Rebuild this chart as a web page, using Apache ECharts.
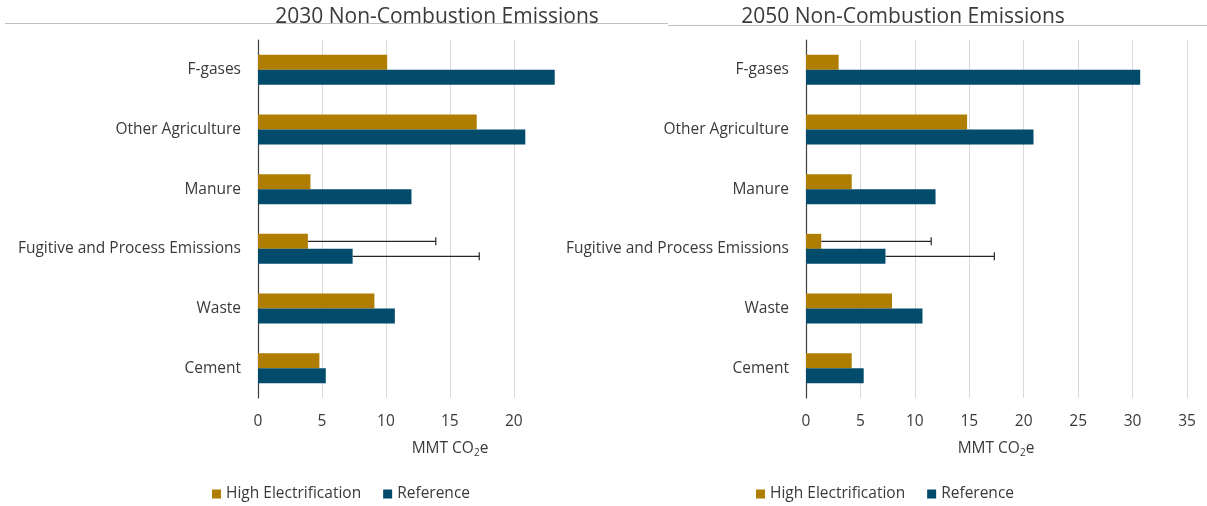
<!DOCTYPE html>
<html>
<head>
<meta charset="utf-8">
<script src="https://cdn.jsdelivr.net/npm/echarts@6/dist/echarts.min.js"></script>
<style>
  html, body { margin: 0; padding: 0; background: #fff; }
  #main { width: 1207px; height: 506px; }
</style>
</head>
<body>
<div id="main"></div>
<script>
// categories, top to bottom
const categories = ['F-gases', 'Other Agriculture', 'Manure', 'Fugitive and Process Emissions', 'Waste', 'Cement'];
const seriesNames = ['High Electrification', 'Reference'];

// MMT CO2e
const high2030 = [10.1, 17.1, 4.1, 3.9, 9.1, 4.8];
const ref2030 = [23.2, 20.9, 12.0, 7.4, 10.7, 5.3];
const high2050 = [3.0, 14.8, 4.2, 1.4, 7.9, 4.2];
const ref2050 = [30.7, 20.9, 11.9, 7.3, 10.7, 5.3];

// upper end of the error bars (only Fugitive and Process Emissions has one)
const errHigh2030 = [null, null, null, 13.9, null, null];
const errRef2030 = [null, null, null, 17.3, null, null];
const errHigh2050 = [null, null, null, 11.5, null, null];
const errRef2050 = [null, null, null, 17.3, null, null];

const xTicks2030 = [0, 5, 10, 15, 20];
const xTicks2050 = [0, 5, 10, 15, 20, 25, 30, 35];

const colors = ['#AF7D00', '#034B6B'];
const textColor = '#3a3a3a';
const font = '"Open Sans", sans-serif';
const fs = 15.5;
const barW = 15;

const chart = echarts.init(document.getElementById('main'));

function xAxisFor(gridIndex, max, ticks) {
  return {
    type: 'value',
    gridIndex: gridIndex,
    min: 0,
    max: max,
    interval: 5,
    axisLine: { show: false },
    axisTick: { show: false },
    axisLabel: {
      color: textColor,
      fontFamily: font,
      fontSize: fs,
      margin: 16,
      formatter: v => (ticks.indexOf(v) >= 0 ? String(v) : '')
    },
    splitLine: {
      show: true,
      showMinLine: false,
      showMaxLine: max === ticks[ticks.length - 1],
      lineStyle: { color: '#D9D9D9', width: 1 }
    }
  };
}

function yAxisFor(gridIndex) {
  return {
    type: 'category',
    gridIndex: gridIndex,
    data: categories,
    inverse: true,
    axisLine: { show: true, lineStyle: { color: '#404040', width: 1.2 } },
    axisTick: { show: false },
    axisLabel: { color: textColor, fontFamily: font, fontSize: fs, margin: 17, padding: [2, 0, 0, 0] }
  };
}

function barSeries(name, idx, values, axisIndex) {
  return {
    name: name,
    type: 'bar',
    xAxisIndex: axisIndex,
    yAxisIndex: axisIndex,
    data: values,
    barWidth: barW,
    barGap: '0%',
    itemStyle: { color: colors[idx] },
    emphasis: { disabled: true }
  };
}

function errorSeries(idx, values, upper, axisIndex) {
  const data = [];
  upper.forEach((u, i) => {
    if (u !== null) data.push([values[i], i, u]);
  });
  const shift = idx === 0 ? -barW / 2 : barW / 2;
  return {
    type: 'custom',
    xAxisIndex: axisIndex,
    yAxisIndex: axisIndex,
    data: data,
    silent: true,
    z: 5,
    renderItem: function (params, api) {
      const a = api.coord([api.value(0), api.value(1)]);
      const b = api.coord([api.value(2), api.value(1)]);
      const y = a[1] + shift;
      const st = { stroke: '#262626', lineWidth: 1.2 };
      return {
        type: 'group',
        children: [
          { type: 'line', shape: { x1: a[0], y1: y, x2: b[0], y2: y }, style: st },
          { type: 'line', shape: { x1: b[0], y1: y - 4, x2: b[0], y2: y + 4 }, style: st }
        ]
      };
    }
  };
}

function legendAt(left) {
  return {
    data: seriesNames,
    left: left,
    top: 481,
    icon: 'rect',
    itemWidth: 9,
    itemHeight: 9,
    itemGap: 22,
    selectedMode: false,
    textStyle: { color: textColor, fontFamily: font, fontSize: fs }
  };
}

function textAt(x, y, text, size) {
  return {
    type: 'text',
    x: x,
    y: y,
    style: {
      text: text,
      fill: textColor,
      font: size + 'px ' + font,
      textAlign: 'center',
      textVerticalAlign: 'middle',
      rich: {
        s: { fontSize: 10, fontFamily: font, fill: textColor, padding: [9, 0, 0, 0] }
      }
    }
  };
}

const option = {
  backgroundColor: '#fff',
  animation: false,
  grid: [
    { left: 258, top: 40, width: 298, height: 358 },
    { left: 806, top: 40, width: 381, height: 358 }
  ],
  xAxis: [xAxisFor(0, 23.3, xTicks2030), xAxisFor(1, 35, xTicks2050)],
  yAxis: [yAxisFor(0), yAxisFor(1)],
  legend: [legendAt(207), legendAt(751)],
  graphic: [
    { type: 'line', shape: { x1: 5, y1: 23.5, x2: 668, y2: 23.5 }, style: { stroke: '#BFBFBF', lineWidth: 1 } },
    { type: 'line', shape: { x1: 668, y1: 25.5, x2: 1207, y2: 25.5 }, style: { stroke: '#BFBFBF', lineWidth: 1 } },
    textAt(437, 17, '2030 Non-Combustion Emissions', 21),
    textAt(903, 17, '2050 Non-Combustion Emissions', 21),
    textAt(450, 449, 'MMT CO{s|2}e', fs),
    textAt(996, 449, 'MMT CO{s|2}e', fs)
  ],
  series: [
    barSeries(seriesNames[0], 0, high2030, 0),
    barSeries(seriesNames[1], 1, ref2030, 0),
    barSeries(seriesNames[0], 0, high2050, 1),
    barSeries(seriesNames[1], 1, ref2050, 1),
    errorSeries(0, high2030, errHigh2030, 0),
    errorSeries(1, ref2030, errRef2030, 0),
    errorSeries(0, high2050, errHigh2050, 1),
    errorSeries(1, ref2050, errRef2050, 1)
  ]
};

chart.setOption(option);
</script>
</body>
</html>
